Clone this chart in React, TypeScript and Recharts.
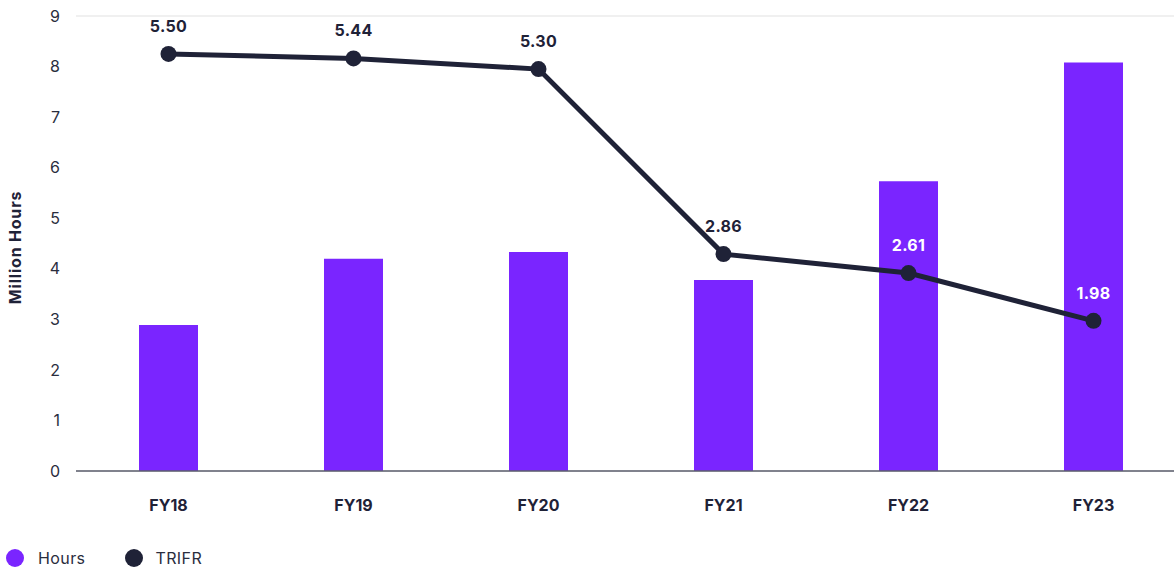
import React from 'react';
import { ComposedChart, Bar, Line, XAxis, YAxis, CartesianGrid, Legend, LabelList } from 'recharts';

const years = ['FY18', 'FY19', 'FY20', 'FY21', 'FY22', 'FY23'];
const hours = [2.89, 4.2, 4.33, 3.78, 5.73, 8.08];
const trifr = [5.5, 5.44, 5.3, 2.86, 2.61, 1.98];
const leftTicks = [0, 1, 2, 3, 4, 5, 6, 7, 8, 9];

const PURPLE = '#7a25ff';
const NAVY = '#1f2237';
const FONT = 'Inter, "Noto Sans", sans-serif';

// the line axis runs 0-6 against the bar axis 0-9
const RATIO = 9 / 6;

const data = years.map((name, i) => ({ name, hours: hours[i], trifr: trifr[i] }));

const TrifrLabel = (props: any) => {
  const { x, y, value, index } = props;
  // labels sitting inside a bar are drawn white
  const onBar = hours[index] > value * RATIO + 0.5;
  return (
    <text
      x={x}
      y={y - 22}
      textAnchor="middle"
      fill={onBar ? '#ffffff' : NAVY}
      fontFamily={FONT}
      fontWeight={700}
      fontSize={16}
      letterSpacing={0.3}
    >
      {value.toFixed(2)}
    </text>
  );
};

const YLabel = (props: any) => {
  const { viewBox } = props;
  const cx = 15;
  const cy = viewBox.y + viewBox.height / 2 + 4;
  return (
    <text
      x={cx}
      y={cy}
      transform={`rotate(-90, ${cx}, ${cy})`}
      textAnchor="middle"
      dominantBaseline="central"
      fill={NAVY}
      fontFamily={FONT}
      fontWeight={700}
      fontSize={16}
      letterSpacing={0.8}
    >
      Million Hours
    </text>
  );
};

const LegendContent = () => (
  <div style={{ display: 'flex', alignItems: 'center', fontFamily: FONT, fontSize: 16, letterSpacing: 0.4, color: '#2a2d3e', height: 24 }}>
    <span style={{ width: 18, height: 18, borderRadius: 9, background: PURPLE, marginLeft: 6, marginRight: 14 }} />
    <span style={{ marginRight: 40 }}>Hours</span>
    <span style={{ width: 18, height: 18, borderRadius: 9, background: NAVY, marginRight: 12 }} />
    <span>TRIFR</span>
  </div>
);

export default function App() {
  return (
    <div style={{ position: 'absolute', left: 0, top: 0, width: 1174, height: 568, overflow: 'hidden', background: '#fff' }}>
      <ComposedChart
        width={1186}
        height={570}
        data={data}
        margin={{ top: 16, right: 0, bottom: 0, left: 0 }}
      >
        <CartesianGrid vertical={false} stroke="#ebebeb" strokeWidth={1.5} />
        <XAxis
          dataKey="name"
          axisLine={{ stroke: '#5b5e6c', strokeWidth: 1.5 }}
          tickLine={false}
          tickSize={0}
          tickMargin={29}
          height={75}
          tick={{ fill: NAVY, fontFamily: FONT, fontWeight: 700, fontSize: 16 }}
        />
        <YAxis
          yAxisId="left"
          width={76}
          domain={[0, 9]}
          ticks={leftTicks}
          interval={0}
          axisLine={false}
          tickLine={false}
          tickSize={0}
          tickMargin={16}
          tick={{ fill: '#2a2d3e', fontFamily: FONT, fontSize: 16 }}
          label={<YLabel />}
        />
        <YAxis yAxisId="right" orientation="right" hide domain={[0, 6]} />
        <Legend verticalAlign="bottom" align="left" content={<LegendContent />} wrapperStyle={{ left: 0 }} />
        <Bar yAxisId="left" dataKey="hours" name="Hours" fill={PURPLE} barSize={59} isAnimationActive={false} />
        <Line
          yAxisId="right"
          dataKey="trifr"
          name="TRIFR"
          stroke={NAVY}
          strokeWidth={5}
          dot={{ r: 8, fill: NAVY, stroke: NAVY, strokeWidth: 0 }}
          activeDot={false}
          isAnimationActive={false}
        >
          <LabelList dataKey="trifr" content={<TrifrLabel />} />
        </Line>
      </ComposedChart>
    </div>
  );
}
